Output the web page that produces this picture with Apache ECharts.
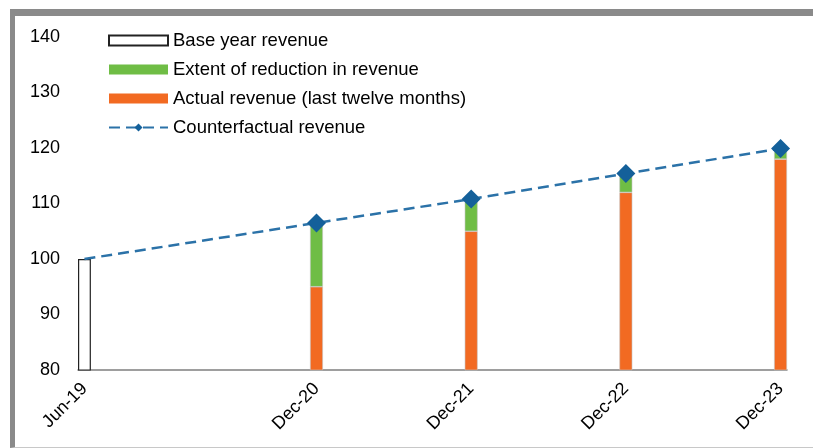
<!DOCTYPE html>
<html>
<head>
<meta charset="utf-8">
<script src="https://cdn.jsdelivr.net/npm/echarts@6/dist/echarts.min.js"></script>
<style>
  html, body { margin: 0; padding: 0; background: #fff; }
  #frame { position: absolute; left: 10px; top: 9px; width: 820px; height: 431px;
           border-left: 5px solid #8a8a8a; border-top: 7px solid #8a8a8a; border-bottom: 1px solid #c8c8c8; }
  #chart { position: absolute; left: 0; top: 0; width: 813px; height: 448px; }
</style>
</head>
<body>
<div id="frame"></div>
<div id="chart"></div>
<script>
// Observation dates and values (index = 100 at base year)
const dates = ['Jun-19', 'Dec-20', 'Dec-21', 'Dec-22', 'Dec-23'];
const baseYearRevenue = [100, null, null, null, null];
const actualRevenue = [null, 95, 105, 112, 118];
const reductionExtent = [null, 11.5, 5.8, 3.4, 1.9];
const counterfactualRevenue = [100, 106.5, 110.8, 115.4, 119.9];
const yTicks = [80, 90, 100, 110, 120, 130, 140];

// Monthly category axis from Jun-19 to Dec-23
const monthNames = ['Jan','Feb','Mar','Apr','May','Jun','Jul','Aug','Sep','Oct','Nov','Dec'];
const months = [];
for (let y = 2019; y <= 2023; y++) {
  for (let m = 0; m < 12; m++) {
    if (y === 2019 && m < 5) continue;
    months.push(monthNames[m] + '-' + String(y).slice(2));
  }
}
function place(arr) {
  const out = months.map(() => null);
  dates.forEach((d, i) => { out[months.indexOf(d)] = arr[i]; });
  return out;
}
const lineData = months.map(() => null);
dates.forEach((d, i) => {
  lineData[months.indexOf(d)] = i === 0 ? { value: counterfactualRevenue[i], symbol: 'none' } : counterfactualRevenue[i];
});

const font = 'Liberation Sans, Arial, sans-serif';
const chart = echarts.init(document.getElementById('chart'), null, { renderer: 'canvas' });
chart.setOption({
  backgroundColor: 'transparent',
  animation: false,
  textStyle: { fontFamily: font },
  grid: { left: 78, right: 26, top: 37, bottom: 78 },
  legend: {
    orient: 'vertical', left: 103, top: 26,
    itemWidth: 59, itemHeight: 10, itemGap: 10,
    textStyle: { fontSize: 18.5, color: '#000', fontFamily: font },
    data: [
      { name: 'Base year revenue', icon: 'rect' },
      { name: 'Extent of reduction in revenue', icon: 'rect', itemStyle: { borderWidth: 0 } },
      { name: 'Actual revenue (last twelve months)', icon: 'rect', itemStyle: { borderWidth: 0 } },
      { name: 'Counterfactual revenue' }
    ]
  },
  xAxis: {
    type: 'category', data: months, boundaryGap: true,
    axisLine: { lineStyle: { color: '#7f7f7f', width: 1.5 } },
    axisTick: { show: false },
    axisLabel: {
      interval: (i, v) => dates.indexOf(v) >= 0,
      rotate: 45, margin: 16, fontSize: 18, color: '#000', fontFamily: font
    }
  },
  yAxis: {
    type: 'value', min: yTicks[0], max: yTicks[yTicks.length - 1], interval: 10,
    axisLine: { show: false }, axisTick: { show: false }, splitLine: { show: false },
    axisLabel: { margin: 18, fontSize: 18, color: '#000', fontFamily: font }
  },
  series: [
    { name: 'Actual revenue (last twelve months)', type: 'bar', stack: 'r', data: place(actualRevenue),
      barCategoryGap: 0, itemStyle: { color: '#f26a22', borderColor: '#c4c4c4', borderWidth: 0.6 } },
    { name: 'Extent of reduction in revenue', type: 'bar', stack: 'r', data: place(reductionExtent),
      itemStyle: { color: '#6fbd45', borderColor: '#c4c4c4', borderWidth: 0.6 } },
    { name: 'Base year revenue', type: 'bar', stack: 'r', data: place(baseYearRevenue),
      itemStyle: { color: '#ffffff', borderColor: '#222', borderWidth: 1.2 } },
    { name: 'Counterfactual revenue', type: 'line', data: lineData, connectNulls: true,
      symbol: 'diamond', symbolSize: 19,
      lineStyle: { color: '#2b72a8', width: 2.5, type: [11, 6] },
      itemStyle: { color: '#14609a' }, z: 5 }
  ]
});
</script>
</body>
</html>
